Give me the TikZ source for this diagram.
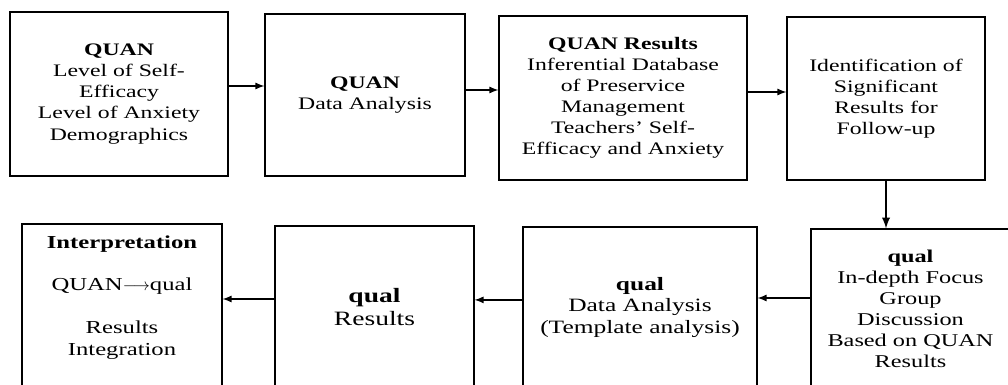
\documentclass[tikz,border=0pt]{standalone}
\usepackage{fontspec}
\setmainfont[FakeStretch=1.35]{Liberation Serif}
\usetikzlibrary{arrows}
\begin{document}
\begin{tikzpicture}[
    stagebox/.style={draw,line width=0.8pt,align=center,inner sep=0pt,
      font=\fontsize{12.5}{15}\selectfont},
    flow/.style={-latex,line width=1.2pt}]
  \useasboundingbox (0,0) rectangle (25.2,9.625);
  \clip (0,0) rectangle (25.2,9.625);

  % top row
  \node[stagebox,minimum width=5.45cm,minimum height=4.1cm] (quaninput) at (2.975,7.275)
    {\textbf{QUAN}\\Level of Self-\\Efficacy\\Level of Anxiety\\Demographics};
  \node[stagebox,minimum width=5cm,minimum height=4.05cm] (quananalysis) at (9.125,7.25)
    {\textbf{QUAN}\\Data Analysis};
  \node[stagebox,minimum width=6.2cm,minimum height=4.1cm] (quanresults) at (15.575,7.175)
    {\textbf{QUAN Results}\\Inferential Database\\of Preservice\\Management\\Teachers' Self-\\Efficacy and Anxiety};
  \node[stagebox,minimum width=4.95cm,minimum height=4.075cm] (followup) at (22.15,7.1625)
    {Identification of\\Significant\\Results for\\Follow-up};

  % bottom row
  \node[stagebox,minimum width=4.975cm,minimum height=4cm,font=\fontsize{12.8}{15}\selectfont] (focusgroup) at (22.7625,1.9)
    {\textbf{qual}\\In-depth Focus\\Group\\Discussion\\Based on QUAN\\Results};
  \node[stagebox,minimum width=5.85cm,minimum height=4.025cm,font=\fontsize{13.4}{15.3}\selectfont] (qualanalysis) at (16,1.9375)
    {\textbf{qual}\\Data Analysis\\(Template analysis)};
  \node[stagebox,minimum width=4.975cm,minimum height=4.05cm,font=\fontsize{14.5}{16}\selectfont] (qualresults) at (9.3625,1.95)
    {\textbf{qual}\\Results};
  \node[stagebox,minimum width=5cm,minimum height=4.1cm,font=\fontsize{13}{15.2}\selectfont] (interpret) at (3.05,1.975)
    {\textbf{Interpretation}\\~\\QUAN$\longrightarrow$qual\\~\\Results\\Integration\\~};

  \draw[flow] ([yshift=0.2cm]quaninput.east) -- ([yshift=0.2cm]quaninput.east -| quananalysis.west);
  \draw[flow] ([yshift=0.125cm]quananalysis.east) -- ([yshift=0.125cm]quananalysis.east -| quanresults.west);
  \draw[flow] ([yshift=0.15cm]quanresults.east) -- ([yshift=0.15cm]quanresults.east -| followup.west);
  \draw[flow,line width=1.6pt] (followup.south) -- (followup.south |- focusgroup.north);
  \draw[flow] ([yshift=0.275cm]focusgroup.west) -- ([yshift=0.275cm]focusgroup.west -| qualanalysis.east);
  \draw[flow] ([yshift=0.19cm]qualanalysis.west) -- ([yshift=0.19cm]qualanalysis.west -| qualresults.east);
  \draw[flow] ([yshift=0.2cm]qualresults.west) -- ([yshift=0.2cm]qualresults.west -| interpret.east);
\end{tikzpicture}
\end{document}
